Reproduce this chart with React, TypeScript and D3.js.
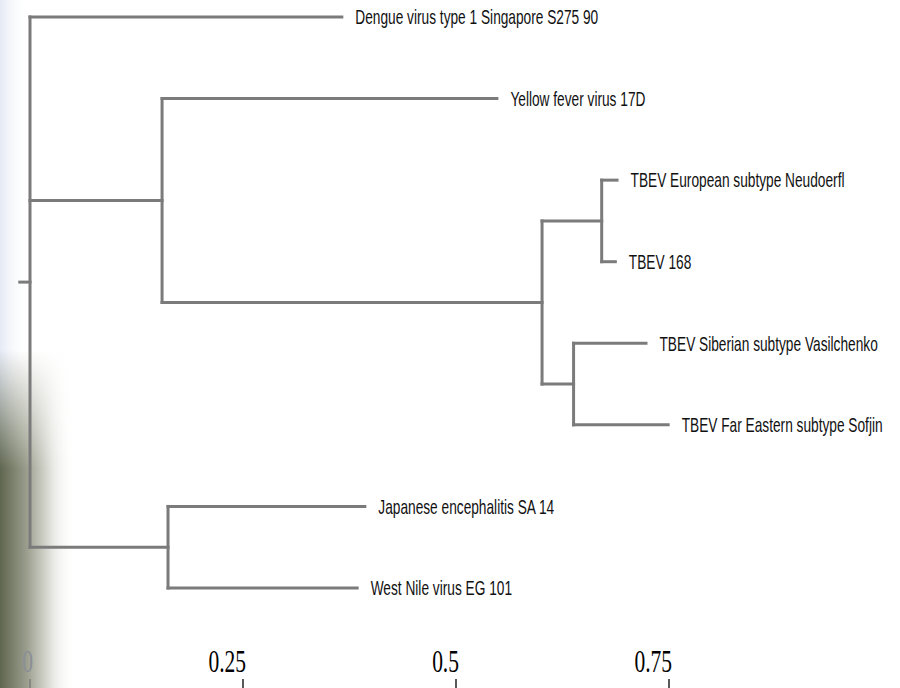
import React from "react";
import * as d3 from "d3";

// tree as parent table, rows in drawing order (children top to bottom)
const nodeNames = [
  "root",
  "Dengue virus type 1 Singapore S275 90",
  "n1",
  "Yellow fever virus 17D",
  "n2",
  "n3",
  "TBEV European subtype Neudoerfl",
  "TBEV 168",
  "n4",
  "TBEV Siberian subtype Vasilchenko",
  "TBEV Far Eastern subtype Sofjin",
  "n5",
  "Japanese encephalitis SA 14",
  "West Nile virus EG 101",
];
const parentNames = ["", "root", "root", "n1", "n1", "n2", "n3", "n3", "n2", "n4", "n4", "root", "n5", "n5"];
const branchLengths = [0.012, 0.366, 0.155, 0.393, 0.446, 0.07, 0.018, 0.016, 0.037, 0.085, 0.111, 0.162, 0.231, 0.222];

const axisTicks = [0, 0.25, 0.5, 0.75];

const WIDTH = 900;
const HEIGHT = 688;
const STRETCH = 1.47; // the picture is squashed sideways
const LINE = "#7b7b7b";

export default function App() {
  const rows = nodeNames.map((name, i) => ({ name, parent: parentNames[i] || null, len: branchLengths[i] }));
  const root = d3
    .stratify<any>()
    .id((d) => d.name)
    .parentId((d) => d.parent)(rows);

  // distance from root
  root.each((n: any) => {
    n.dist = n.parent ? n.parent.dist + n.data.len : 0;
  });

  const leaves = root.leaves().map((d) => d.id as string);
  const yScale = d3.scalePoint().domain(leaves).range([17, 588]);
  const xScale = d3.scaleLinear().domain([0, 0.75]).range([30, 669]);

  root.eachAfter((n: any) => {
    if (!n.children) n.y = yScale(n.id);
    else n.y = (n.children[0].y + n.children[n.children.length - 1].y) / 2;
    n.x = xScale(n.dist);
  });

  const segs: { x1: number; y1: number; x2: number; y2: number }[] = [];
  const rootAny = root as any;
  segs.push({ x1: xScale(-root.data.len), y1: rootAny.y, x2: rootAny.x, y2: rootAny.y });
  root.each((n: any) => {
    if (!n.children) return;
    const first = n.children[0];
    const last = n.children[n.children.length - 1];
    segs.push({ x1: n.x, y1: first.y, x2: n.x, y2: last.y });
    n.children.forEach((c: any) => segs.push({ x1: n.x, y1: c.y, x2: c.x, y2: c.y }));
  });

  return (
    <svg
      width={WIDTH}
      height={HEIGHT}
      style={{ position: "absolute", left: 0, top: 0, background: "#fff" }}
    >
      <defs>
        <linearGradient id="blueEdge" x1="0" x2="1" y1="0" y2="0">
          <stop offset="0" stopColor="#e4e9f4" />
          <stop offset="1" stopColor="#ffffff" stopOpacity={0} />
        </linearGradient>
        <linearGradient id="greenEdge" x1="0" x2="1" y1="0" y2="0">
          <stop offset="0" stopColor="#5f664f" />
          <stop offset="0.35" stopColor="#9a9d8c" />
          <stop offset="0.7" stopColor="#e6e7e2" />
          <stop offset="1" stopColor="#ffffff" stopOpacity={0} />
        </linearGradient>
        <linearGradient id="fadeDown" x1="0" x2="0" y1="0" y2="1">
          <stop offset="0" stopColor="#000" />
          <stop offset="0.35" stopColor="#fff" />
          <stop offset="1" stopColor="#fff" />
        </linearGradient>
        <mask id="greenMask" maskUnits="userSpaceOnUse" x={0} y={350} width={90} height={338}>
          <rect x={0} y={350} width={90} height={338} fill="url(#fadeDown)" />
        </mask>
      </defs>

      <rect x={0} y={0} width={28} height={460} fill="url(#blueEdge)" />
      <rect x={0} y={350} width={75} height={338} fill="url(#greenEdge)" mask="url(#greenMask)" />

      <g stroke={LINE} strokeWidth={3} strokeLinecap="square" fill="none">
        {segs.map((s, i) => (
          <line key={i} x1={s.x1} y1={s.y1} x2={s.x2} y2={s.y2} />
        ))}
      </g>

      <g fontFamily="'Liberation Sans', Arial, sans-serif" fontSize={13.7} fill="#111">
        {root.leaves().map((n: any) => (
          <text key={n.id} transform={`translate(${n.x + 13.5},${n.y}) scale(1,${STRETCH})`} y={4.9}>
            {n.id}
          </text>
        ))}
      </g>

      <g fontFamily="'Liberation Serif', 'Times New Roman', serif" fontSize={21.5} fill="#000">
        {axisTicks.map((t) => (
          <g key={t}>
            <text
              transform={`translate(${xScale(t) + 3},672) scale(1,${STRETCH})`}
              textAnchor="end"
              fill={t === 0 ? "#8a8f96" : "#000"}
            >
              {t}
            </text>
            <line x1={xScale(t)} x2={xScale(t)} y1={679} y2={HEIGHT} stroke={t === 0 ? "#777" : "#000"} strokeWidth={1.3} />
          </g>
        ))}
      </g>
    </svg>
  );
}
